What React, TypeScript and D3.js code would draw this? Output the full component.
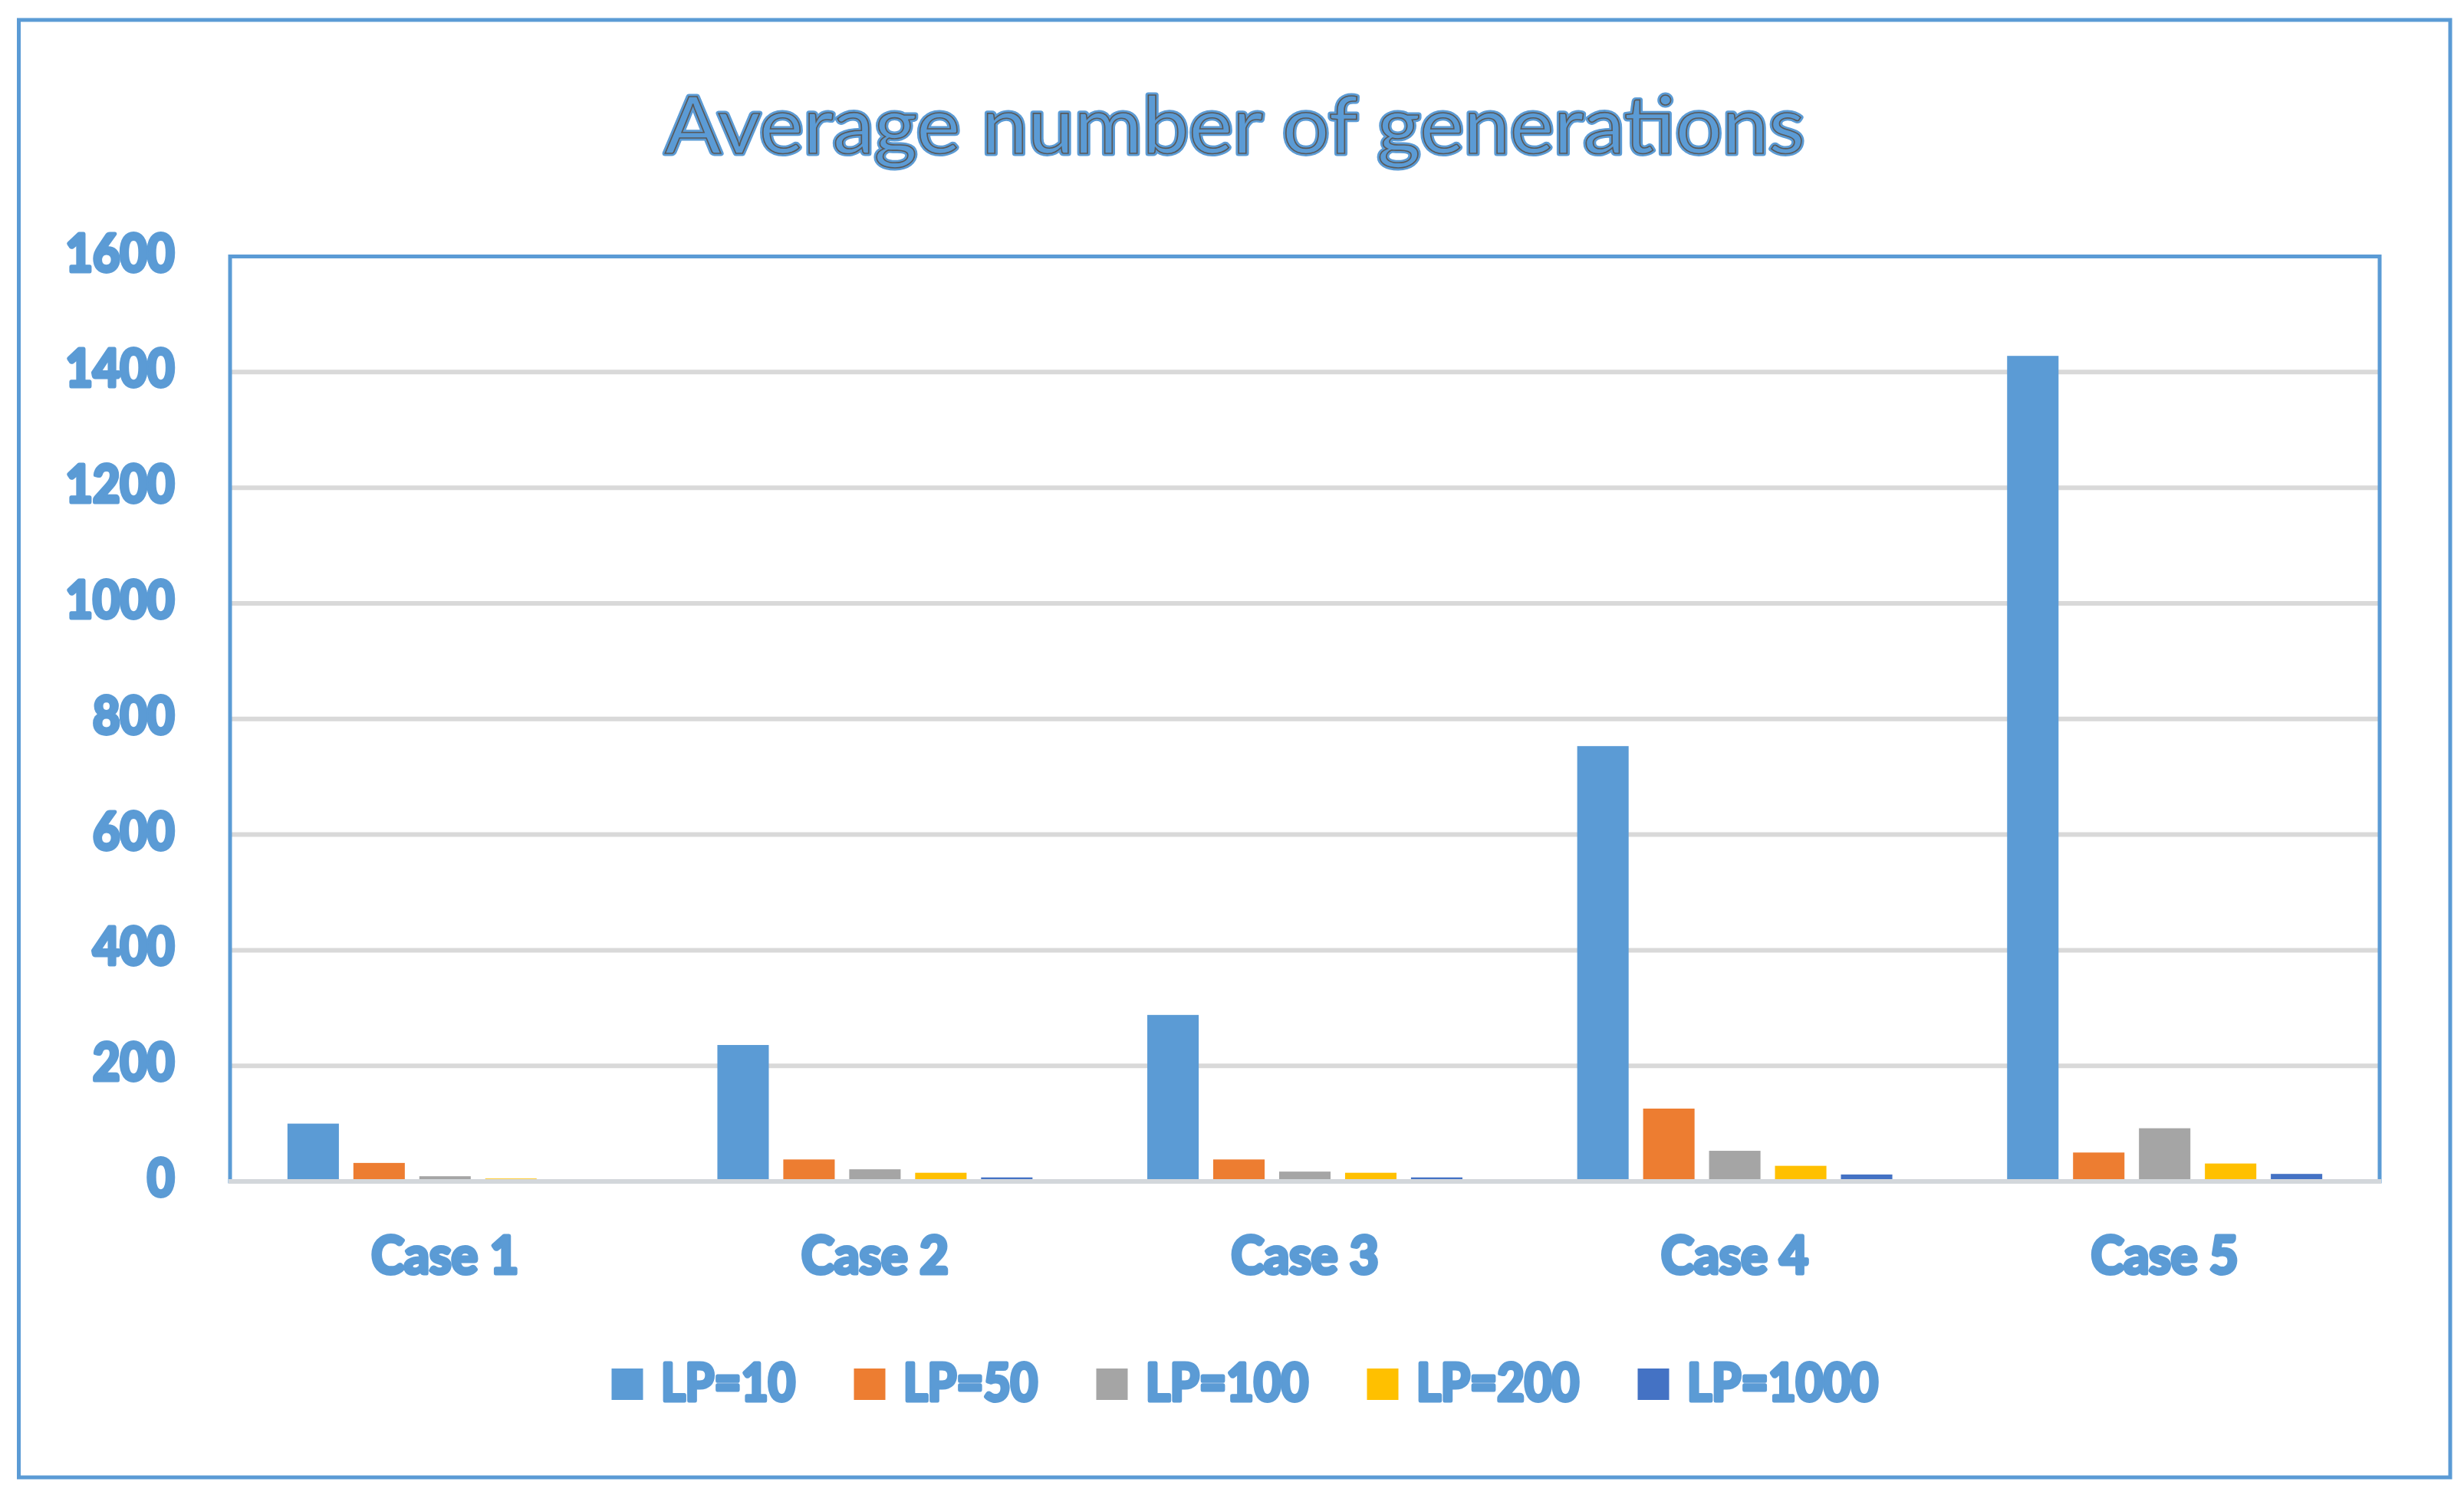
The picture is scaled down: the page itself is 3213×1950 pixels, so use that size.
import React from 'react';
import * as d3 from 'd3';

const cases = ['Case 1', 'Case 2', 'Case 3', 'Case 4', 'Case 5'];
const seriesNames = ['LP=10', 'LP=50', 'LP=100', 'LP=200', 'LP=1000'];
const lp10 = [100, 236, 288, 753, 1428];
const lp50 = [32, 38, 38, 126, 50];
const lp100 = [9, 21, 17, 53, 92];
const lp200 = [5, 15, 15, 27, 31];
const lp1000 = [2, 7, 7, 12, 13];
const yTicks = [0, 200, 400, 600, 800, 1000, 1200, 1400, 1600];

const seriesValues = [lp10, lp50, lp100, lp200, lp1000];
const colors = ['#5B9BD5', '#ED7D31', '#A5A5A5', '#FFC000', '#4472C4'];

const W = 3213;
const H = 1950;
const BLUE = '#5B9BD5';
const FONT = "Lato, 'Open Sans', sans-serif";

const plot = { left: 300, right: 3103, top: 334.5, bottom: 1541 };

const labelStyle = {
  fill: BLUE,
  stroke: BLUE,
  strokeWidth: 5,
  strokeLinejoin: 'round' as const,
  paintOrder: 'stroke' as const,
  fontFamily: FONT,
  fontWeight: 700,
};

const App: React.FC = () => {
  const x0 = d3.scaleBand<string>()
    .domain(cases)
    .range([plot.left, plot.right])
    .paddingInner(0.267)
    .paddingOuter(0.1335);

  const x1 = d3.scaleBand<string>()
    .domain(seriesNames)
    .range([0, x0.bandwidth()])
    .paddingInner(0.22)
    .paddingOuter(0);

  const y = d3.scaleLinear().domain([0, 1600]).range([plot.bottom, plot.top]);

  // legend layout
  const legendTextWidth = (s: string) => s.length * 37 - 10;
  const items = seriesNames.map(s => ({ name: s, tw: legendTextWidth(s) }));
  const total = items.reduce((acc, it, i) => acc + 62 + it.tw + 5 + (i < items.length - 1 ? 74 : 0), 0);
  let cursor = 1624.5 - total / 2;
  const legendItems = items.map((it, i) => {
    const xPos = cursor;
    cursor += 62 + it.tw + 5 + 74;
    return { ...it, x: xPos, color: colors[i] };
  });

  const title = 'Average number of generations';

  return (
    <svg
      width={W}
      height={H}
      style={{ position: 'absolute', left: 0, top: 0, display: 'block', background: '#fff' }}
    >
      <rect x={0} y={0} width={W} height={H} fill="#fff" />
      {/* outer chart border */}
      <rect x={24.5} y={26} width={3195 - 24.5} height={1927 - 26} fill="none" stroke={BLUE} strokeWidth={5} />

      {/* title */}
      <text
        x={1610}
        y={200}
        textAnchor="middle"
        fontSize={102}
        textLength={1486}
        lengthAdjust="spacingAndGlyphs"
        style={{ ...labelStyle, fontWeight: 400, strokeWidth: 7 }}
      >
        {title}
      </text>
      <text
        x={1610}
        y={200}
        textAnchor="middle"
        fontSize={102}
        textLength={1486}
        lengthAdjust="spacingAndGlyphs"
        style={{ fill: 'none', stroke: '#595959', strokeWidth: 1.6, fontFamily: FONT, fontWeight: 400 }}
      >
        {title}
      </text>

      {/* gridlines */}
      {yTicks.filter(t => t > 0 && t < 1600).map(t => (
        <line key={t} x1={plot.left} x2={plot.right} y1={y(t)} y2={y(t)} stroke="#D9D9D9" strokeWidth={6} />
      ))}

      {/* plot frame */}
      <rect
        x={plot.left}
        y={plot.top}
        width={plot.right - plot.left}
        height={plot.bottom - plot.top}
        fill="none"
        stroke={BLUE}
        strokeWidth={5}
      />

      {/* bars */}
      {cases.map((c, ci) => (
        <g key={c} transform={`translate(${x0(c)},0)`}>
          {seriesNames.map((s, si) => {
            const v = seriesValues[si][ci];
            return (
              <rect
                key={s}
                x={x1(s)}
                y={y(v)}
                width={x1.bandwidth()}
                height={y(0) - y(v)}
                fill={colors[si]}
              />
            );
          })}
        </g>
      ))}

      {/* x axis line */}
      <line x1={plot.left - 2} x2={plot.right + 2} y1={y(0)} y2={y(0)} stroke="#D3D7DB" strokeWidth={6} />

      {/* y tick labels */}
      {yTicks.map(t => {
        const label = String(t);
        return (
          <text
            key={t}
            x={227.5}
            y={y(t) + 19}
            textAnchor="end"
            fontSize={67}
            textLength={label.length * 35.5}
            lengthAdjust="spacingAndGlyphs"
            style={labelStyle}
          >
            {label}
          </text>
        );
      })}

      {/* x category labels */}
      {cases.map(c => (
        <text
          key={c}
          x={(x0(c) || 0) + x0.bandwidth() / 2}
          y={1661}
          textAnchor="middle"
          fontSize={67}
          textLength={192}
          lengthAdjust="spacingAndGlyphs"
          style={labelStyle}
        >
          {c}
        </text>
      ))}

      {/* legend */}
      {legendItems.map(it => (
        <g key={it.name}>
          <rect x={it.x} y={1785} width={41} height={41} fill={it.color} />
          <text
            x={it.x + 64.5}
            y={1827}
            fontSize={67}
            textLength={it.tw}
            lengthAdjust="spacingAndGlyphs"
            style={labelStyle}
          >
            {it.name}
          </text>
        </g>
      ))}
    </svg>
  );
};

export default App;
